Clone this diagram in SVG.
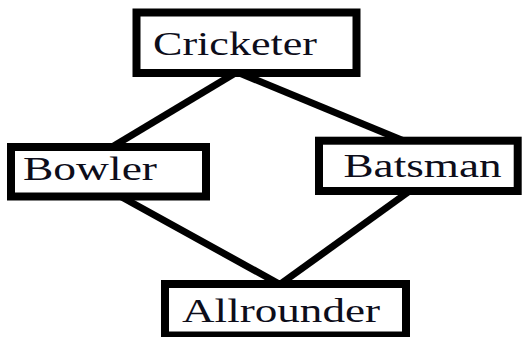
<svg xmlns="http://www.w3.org/2000/svg" width="524" height="337" viewBox="0 0 524 337">
  <style>
    .box { fill: #ffffff; stroke: #000000; stroke-width: 8; }
    .label { font-family: "Liberation Serif", "Times New Roman", serif; font-size: 33px; fill: #0d0d1a; }
    .edge { stroke: #000000; stroke-width: 7; fill: none; stroke-linecap: butt; }
  </style>
  <rect width="524" height="337" fill="#ffffff"/>

  <!-- connectors drawn first so box borders sit on top -->
  <g id="connectors">
    <line class="edge" x1="237" y1="72" x2="112" y2="147"/>
    <line class="edge" x1="237" y1="72" x2="404" y2="141"/>
    <line class="edge" x1="118" y1="195" x2="281" y2="285"/>
    <line class="edge" x1="411" y1="190" x2="279" y2="285"/>
  </g>

  <g id="cricketer">
    <rect class="box" x="136.5" y="12.5" width="220" height="60.5"/>
    <text class="label" x="153" y="55" textLength="164" lengthAdjust="spacingAndGlyphs">Cricketer</text>
  </g>

  <g id="bowler">
    <rect class="box" x="11" y="147" width="195" height="49.5"/>
    <text class="label" x="23" y="180" textLength="134" lengthAdjust="spacingAndGlyphs">Bowler</text>
  </g>

  <g id="batsman">
    <rect class="box" x="319" y="140.7" width="198.7" height="50.3"/>
    <text class="label" x="343.5" y="176.7" textLength="158" lengthAdjust="spacingAndGlyphs">Batsman</text>
  </g>

  <g id="allrounder">
    <rect class="box" x="165" y="284" width="241" height="51.5"/>
    <text class="label" x="182" y="321.7" textLength="198" lengthAdjust="spacingAndGlyphs">Allrounder</text>
  </g>
</svg>
